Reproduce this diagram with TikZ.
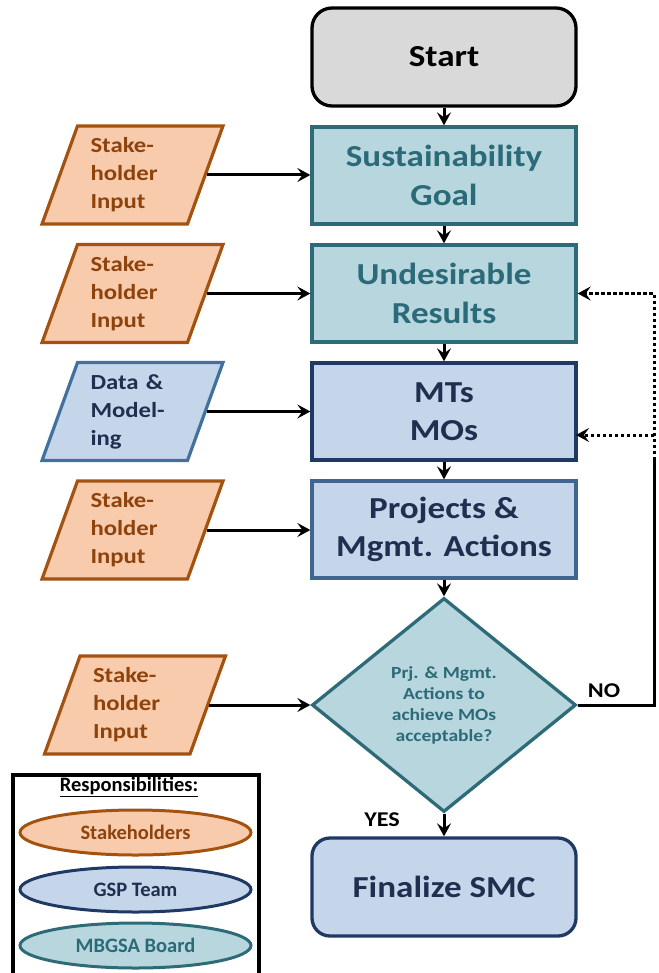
\documentclass[tikz,border=0pt]{standalone}
\usepackage{fontspec}
\setmainfont{Carlito}
\newfontfamily\wf{Carlito}[FakeStretch=1.15]
\usetikzlibrary{shapes.geometric,arrows.meta}
\definecolor{tealfill}{HTML}{B8D6DD}
\definecolor{tealline}{HTML}{2E6B78}
\definecolor{tealtext}{HTML}{2B6A78}
\definecolor{bluefill}{HTML}{C5D5EA}
\definecolor{navyline}{HTML}{203864}
\definecolor{midblue}{HTML}{3F6593}
\definecolor{datablue}{HTML}{41719C}
\definecolor{navytext}{HTML}{1F2F4F}
\definecolor{orfill}{HTML}{F8CBAD}
\definecolor{orline}{HTML}{A3520F}
\definecolor{ortext}{HTML}{8E430C}
\definecolor{greyfill}{HTML}{D9D9D9}
\tikzset{
  mainbox/.style={draw, line width=3.3pt, minimum width=264pt, minimum height=97pt,
    inner sep=0pt, align=center, font=\wf\bfseries\fontsize{30.5}{38.5}\selectfont},
  tealbox/.style={mainbox, fill=tealfill, draw=tealline, text=tealtext},
  bluebox/.style={mainbox, fill=bluefill, draw=navyline, text=navytext},
  para/.style={trapezium, trapezium left angle=70, trapezium right angle=110,
    trapezium stretches=true, minimum width=181pt, minimum height=98pt,
    line width=3.2pt, inner sep=0pt, text width=84pt, align=left,
    font=\wf\bfseries\fontsize{21.5}{28}\selectfont},
  stake/.style={para, fill=orfill, draw=orline, text=ortext},
  datap/.style={para, fill=bluefill, draw=datablue, text=navytext},
  flow/.style={line width=3pt, -{Stealth[length=13pt,width=14pt,inset=5pt]}},
  dotflow/.style={flow, dash pattern=on 3.5pt off 2.5pt},
  legell/.style={ellipse, line width=3pt, minimum width=231pt, minimum height=45pt,
    inner sep=0pt, font=\bfseries\fontsize{20.5}{24}\selectfont},
  lbl/.style={font=\wf\bfseries\fontsize{21}{24}\selectfont, inner sep=0pt}
}
\begin{document}
\begin{tikzpicture}[x=1pt,y=-1pt]
\useasboundingbox (0,0) rectangle (658,973);
% main column
\node[mainbox, fill=greyfill, draw=black, rounded corners=20pt, minimum height=98pt] (start) at (444,57) {Start};
\node[tealbox] (goal) at (444,175.5) {Sustainability\\Goal};
\node[tealbox] (ur) at (444,293.5) {Undesirable\\Results};
\node[bluebox] (mt) at (444,411.5) {MTs\\MOs};
\node[bluebox, draw=midblue] (pa) at (444,529.5) {Projects \&\\Mgmt. Actions};
\node[diamond, aspect=1.234, minimum width=264pt, minimum height=214pt, inner sep=0pt,
  fill=tealfill, draw=tealline, line width=3.3pt, text=tealtext, align=center,
  font=\wf\bfseries\fontsize{17}{21}\selectfont] (dec) at (444,705)
  {Prj. \& Mgmt.\\Actions to\\achieve MOs\\acceptable?};
\node[bluebox, rounded corners=18pt, minimum height=98pt] (fin) at (444,887) {Finalize SMC};
% inputs
\node[stake] (s1) at (132.5,175) {Stake-\\holder\\Input};
\node[stake] (s2) at (132.5,293.5) {Stake-\\holder\\Input};
\node[datap] (dm) at (132.5,411.5) {Data \&\\Model-\\ing};
\node[stake] (s4) at (132.5,530) {Stake-\\holder\\Input};
\node[stake] (s5) at (135,705) {Stake-\\holder\\Input};
% vertical arrows
\draw[flow] (start.south) -- (goal.north);
\draw[flow] (goal.south) -- (ur.north);
\draw[flow] (ur.south) -- (mt.north);
\draw[flow] (mt.south) -- (pa.north);
\draw[flow] (pa.south) -- (dec.north);
\draw[flow] (dec.south) -- (fin.north);
% horizontal arrows
\draw[flow] (s1.east) -- (s1.east -| goal.west);
\draw[flow] (s2.east) -- (s2.east -| ur.west);
\draw[flow] (dm.east) -- (dm.east -| mt.west);
\draw[flow] (s4.east) -- (s4.east -| pa.west);
\draw[flow] (s5.east) -- (s5.east -| dec.west);
% NO loop
\coordinate (nr) at (654,705);
\coordinate (sp) at (654,460);
\coordinate (mtin) at (576,435);
\draw[line width=3pt] (dec.east) -- (nr) -- (sp);
\draw[dotflow] (sp) -- (sp |- ur.east) -- (ur.east);
\draw[dotflow] (sp |- mtin) -- (mtin);
\node[lbl] (no) at (604,691) {NO};
\node[lbl] (yes) at (382,819.5) {YES};
% legend
\draw[line width=3.3pt] (13,985) -- (13,775) -- (259,775) -- (259,985);
\node[font=\bfseries\fontsize{20.5}{24}\selectfont, inner sep=0pt] (resp) at (129,787) {\underline{Responsibilities:}};
\node[legell, fill=orfill, draw=orline, text=ortext] (l1) at (135.5,832.5) {Stakeholders};
\node[legell, fill=bluefill, draw=navyline, text=navytext] (l2) at (135.5,889.5) {GSP Team};
\node[legell, fill=tealfill, draw=tealline, text=tealtext] (l3) at (135.5,945.5) {MBGSA Board};
\end{tikzpicture}
\end{document}
